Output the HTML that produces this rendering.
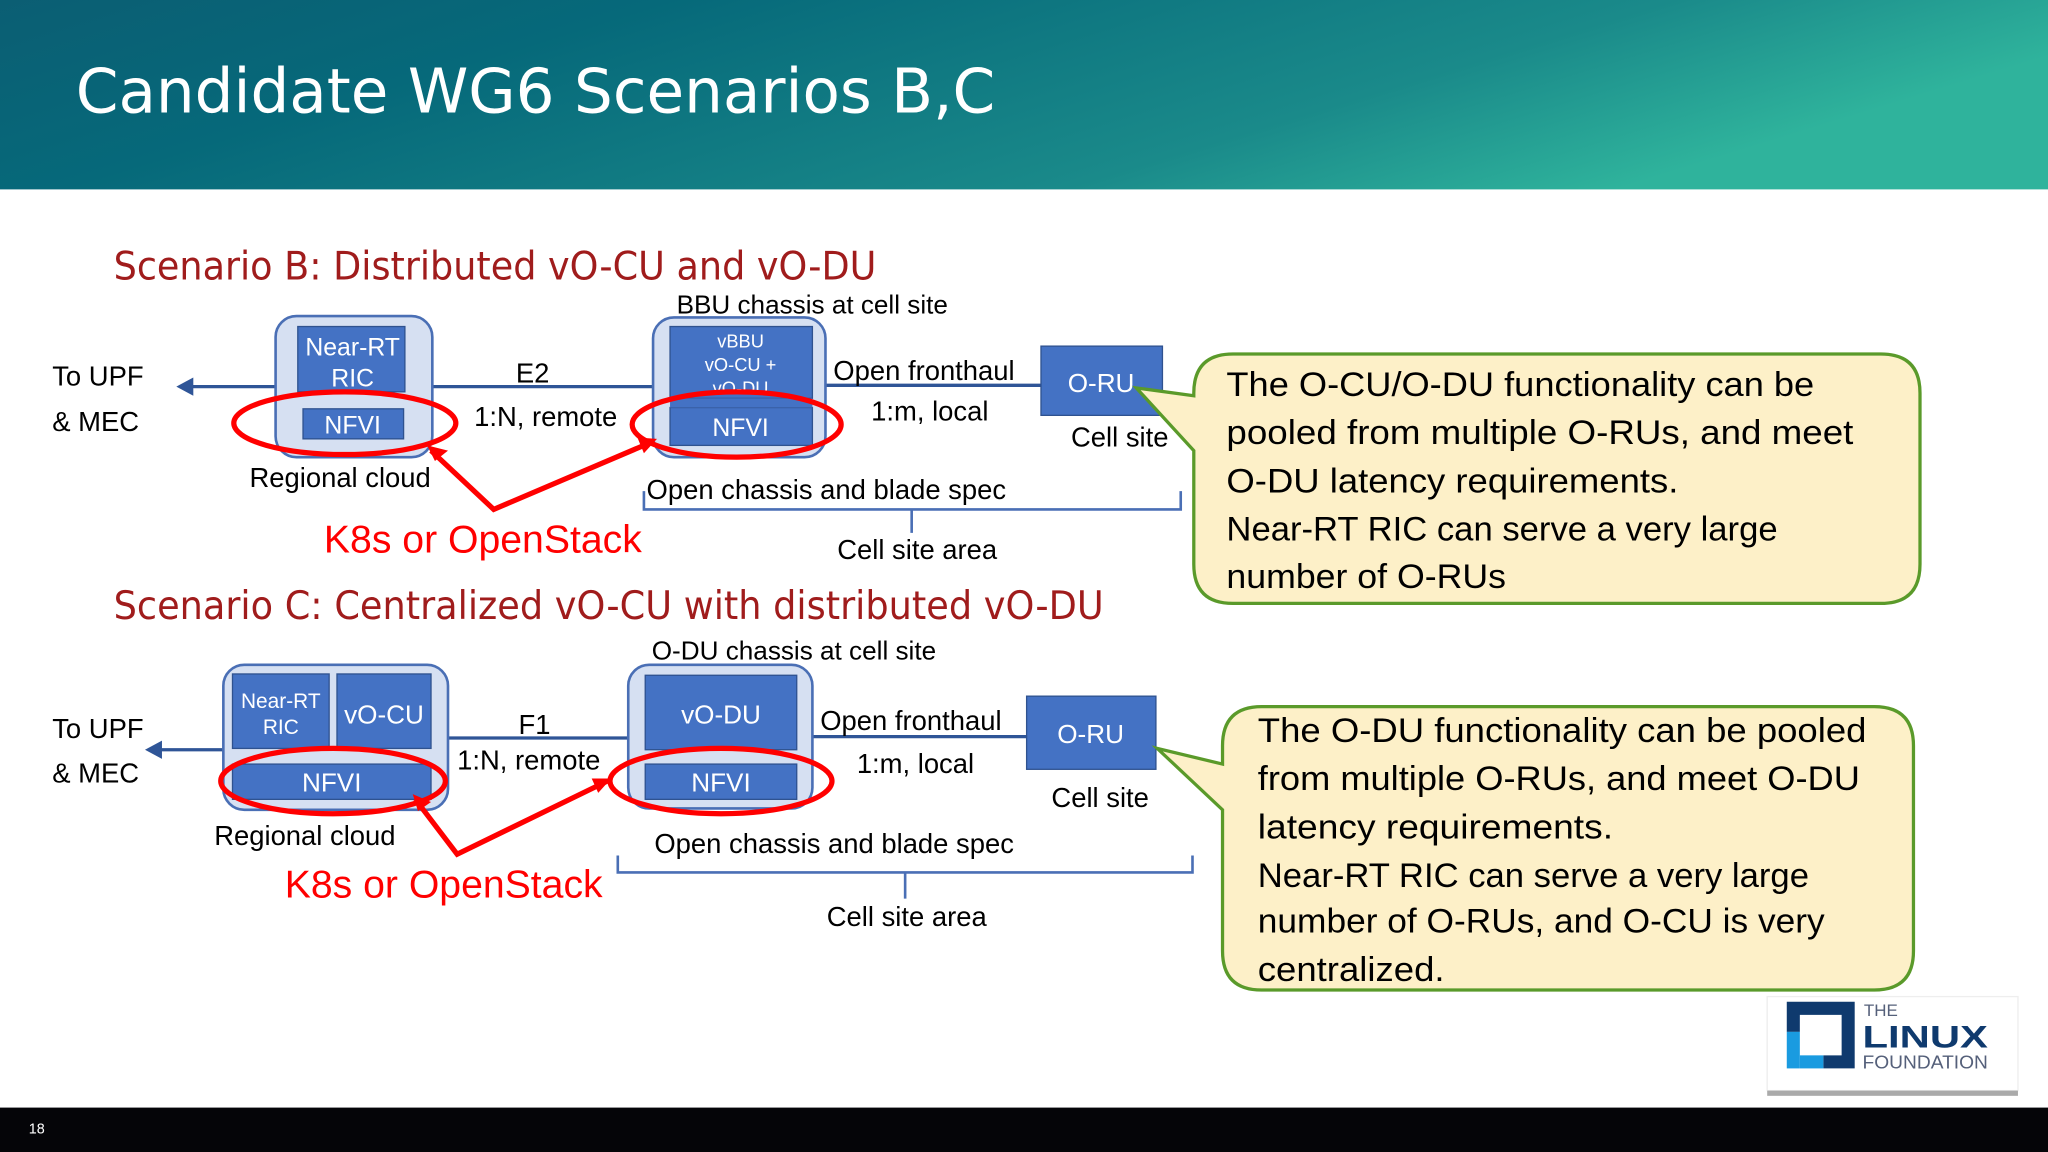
<!DOCTYPE html>
<html><head><meta charset="utf-8"><style>
html,body{margin:0;padding:0;background:#fff;}
svg{display:block;}
text{font-family:"Liberation Sans",sans-serif;}
.cal{font-family:"DejaVu Sans","Liberation Sans",sans-serif;}
</style></head><body>
<svg width="2048" height="1152" viewBox="0 0 1568 882" xmlns="http://www.w3.org/2000/svg">
<defs>
<linearGradient id="hg" x1="0" y1="0" x2="1" y2="0.3">
<stop offset="0" stop-color="#0b5e73"/><stop offset="0.3" stop-color="#06697a"/><stop offset="0.75" stop-color="#1a8a8a"/><stop offset="1" stop-color="#2fb39c"/>
</linearGradient>
</defs>
<rect width="1568" height="882" fill="#fff"/>
<rect width="1568" height="145" fill="url(#hg)"/>
<text x="58" y="86" font-size="47" fill="#fff" class="cal" textLength="704" lengthAdjust="spacingAndGlyphs">Candidate WG6 Scenarios  B,C</text>
<rect y="848" width="1568" height="34" fill="#050508"/>
<text x="22" y="868" font-size="11" fill="#fff">18</text>

<!-- Scenario B -->
<text x="87" y="214" font-size="30" fill="#a01c1c" class="cal" textLength="584" lengthAdjust="spacingAndGlyphs">Scenario B: Distributed vO-CU and vO-DU</text>
<g stroke="#2f5597" stroke-width="2.5"><line x1="211" y1="296" x2="146" y2="296"/><line x1="331" y1="296" x2="500" y2="296"/><line x1="632" y1="295" x2="797" y2="295"/></g>
<polygon points="135,296 148,289 148,303" fill="#2f5597"/>
<rect x="211" y="242" width="120" height="108" rx="16" fill="#d6e0f2" stroke="#4a6fb5" stroke-width="2"/>
<rect x="228" y="250" width="82" height="50" fill="#4472c4" stroke="#2f528f"/>
<rect x="232" y="313" width="77" height="23" fill="#4472c4" stroke="#2f528f"/>
<text x="270" y="272" font-size="19" fill="#fff" text-anchor="middle">Near-RT</text>
<text x="270" y="296" font-size="19" fill="#fff" text-anchor="middle">RIC</text>
<text x="270" y="332" font-size="19" fill="#fff" text-anchor="middle">NFVI</text>
<rect x="500" y="243" width="132" height="107" rx="16" fill="#d6e0f2" stroke="#4a6fb5" stroke-width="2"/>
<rect x="513" y="250" width="109" height="55" fill="#4472c4" stroke="#2f528f"/>
<rect x="513" y="312" width="109" height="29" fill="#4472c4" stroke="#2f528f"/>
<text x="567" y="266" font-size="14" fill="#fff" text-anchor="middle">vBBU</text>
<text x="567" y="284" font-size="14" fill="#fff" text-anchor="middle">vO-CU +</text>
<text x="567" y="302" font-size="14" fill="#fff" text-anchor="middle">vO-DU</text>
<rect x="513" y="305" width="109" height="7" fill="#4472c4"/>
<text x="567" y="334" font-size="19" fill="#fff" text-anchor="middle">NFVI</text>
<rect x="797" y="265" width="93" height="53" fill="#4472c4" stroke="#2f528f"/>
<text x="843" y="300" font-size="20" fill="#fff" text-anchor="middle">O-RU</text>
<ellipse cx="264" cy="324" rx="85" ry="24" fill="none" stroke="#f00" stroke-width="4"/>
<ellipse cx="564" cy="325" rx="80" ry="25" fill="none" stroke="#f00" stroke-width="4"/>
<g font-size="21" fill="#000">
<text x="40" y="295">To UPF</text><text x="40" y="330">&amp; MEC</text>
<text x="395" y="293">E2</text><text x="363" y="326">1:N, remote</text>
<text x="518" y="240" font-size="20">BBU chassis at cell site</text>
<text x="638" y="291">Open fronthaul</text><text x="667" y="322">1:m, local</text>
<text x="820" y="342">Cell site</text>
<text x="191" y="373">Regional cloud</text>
<text x="495" y="382">Open chassis and blade spec</text>
<text x="641" y="428">Cell site area</text>
</g>
<path d="M493 376 V390 H904 V376 M698 390 V408" fill="none" stroke="#4a6fb5" stroke-width="2"/>
<polyline points="330,345 378,390 500,338" fill="none" stroke="#f00" stroke-width="4"/>
<polygon points="327,341 343,345 333,353" fill="#f00"/>
<polygon points="503,336 488,335 493,347" fill="#f00"/>
<text x="248" y="423" font-size="30" fill="#f00">K8s or OpenStack</text>

<path d="M944 271 H1440 Q1470 271 1470 301 V432 Q1470 462 1440 462 H944 Q914 462 914 432 V345 L870 297 L914 303 V301 Q914 271 944 271 Z" fill="#fdf0c8" stroke="#5a9a2a" stroke-width="2.5"/>
<g font-size="26" fill="#000" class="cal">
<text x="939" y="303" textLength="450" lengthAdjust="spacingAndGlyphs">The O-CU/O-DU functionality can be</text>
<text x="939" y="340" textLength="480" lengthAdjust="spacingAndGlyphs">pooled from multiple O-RUs, and meet</text>
<text x="939" y="377" textLength="346" lengthAdjust="spacingAndGlyphs">O-DU latency requirements.</text>
<text x="939" y="414" textLength="422" lengthAdjust="spacingAndGlyphs">Near-RT RIC can serve a very large</text>
<text x="939" y="450" textLength="214" lengthAdjust="spacingAndGlyphs">number of O-RUs</text>
</g>

<!-- Scenario C -->
<text x="87" y="474" font-size="30" fill="#a01c1c" class="cal" textLength="758" lengthAdjust="spacingAndGlyphs">Scenario C: Centralized vO-CU with distributed vO-DU</text>
<g stroke="#2f5597" stroke-width="2.5"><line x1="171" y1="574" x2="122" y2="574"/><line x1="343" y1="565" x2="481" y2="565"/><line x1="622" y1="564" x2="786" y2="564"/></g>
<polygon points="111,574 124,567 124,581" fill="#2f5597"/>
<rect x="171" y="509" width="172" height="111" rx="16" fill="#d6e0f2" stroke="#4a6fb5" stroke-width="2"/>
<rect x="178" y="516" width="74" height="57" fill="#4472c4" stroke="#2f528f"/>
<rect x="258" y="516" width="72" height="57" fill="#4472c4" stroke="#2f528f"/>
<rect x="178" y="585" width="152" height="27" fill="#4472c4" stroke="#2f528f"/>
<text x="215" y="542" font-size="16" fill="#fff" text-anchor="middle">Near-RT</text>
<text x="215" y="562" font-size="16" fill="#fff" text-anchor="middle">RIC</text>
<text x="294" y="554" font-size="20" fill="#fff" text-anchor="middle">vO-CU</text>
<text x="254" y="606" font-size="20" fill="#fff" text-anchor="middle">NFVI</text>
<rect x="481" y="509" width="141" height="110" rx="16" fill="#d6e0f2" stroke="#4a6fb5" stroke-width="2"/>
<rect x="494" y="517" width="116" height="57" fill="#4472c4" stroke="#2f528f"/>
<rect x="494" y="585" width="116" height="27" fill="#4472c4" stroke="#2f528f"/>
<text x="552" y="554" font-size="20" fill="#fff" text-anchor="middle">vO-DU</text>
<text x="552" y="606" font-size="20" fill="#fff" text-anchor="middle">NFVI</text>
<rect x="786" y="533" width="99" height="56" fill="#4472c4" stroke="#2f528f"/>
<text x="835" y="569" font-size="20" fill="#fff" text-anchor="middle">O-RU</text>
<ellipse cx="255" cy="598" rx="86" ry="25" fill="none" stroke="#f00" stroke-width="4"/>
<ellipse cx="552" cy="598" rx="85" ry="25" fill="none" stroke="#f00" stroke-width="4"/>
<g font-size="21" fill="#000">
<text x="40" y="565">To UPF</text><text x="40" y="599">&amp; MEC</text>
<text x="397" y="562">F1</text><text x="350" y="589">1:N, remote</text>
<text x="499" y="505" font-size="20">O-DU chassis at cell site</text>
<text x="628" y="559">Open fronthaul</text><text x="656" y="592">1:m, local</text>
<text x="805" y="618">Cell site</text>
<text x="164" y="647">Regional cloud</text>
<text x="501" y="653">Open chassis and blade spec</text>
<text x="633" y="709">Cell site area</text>
</g>
<path d="M473 655 V668 H913 V655 M693 668 V688" fill="none" stroke="#4a6fb5" stroke-width="2"/>
<polyline points="318,612 350,654 465,598" fill="none" stroke="#f00" stroke-width="4"/>
<polygon points="316,608 330,614 320,621" fill="#f00"/>
<polygon points="468,596 453,596 458,607" fill="#f00"/>
<text x="218" y="687" font-size="30" fill="#f00">K8s or OpenStack</text>

<path d="M966 541 H1435 Q1465 541 1465 571 V728 Q1465 758 1435 758 H966 Q936 758 936 728 V620 L886 573 L936 585 V571 Q936 541 966 541 Z" fill="#fdf0c8" stroke="#5a9a2a" stroke-width="2.5"/>
<g font-size="26" fill="#000" class="cal">
<text x="963" y="568" textLength="466" lengthAdjust="spacingAndGlyphs">The O-DU functionality can be pooled</text>
<text x="963" y="605" textLength="461" lengthAdjust="spacingAndGlyphs">from multiple O-RUs, and meet O-DU</text>
<text x="963" y="642" textLength="272" lengthAdjust="spacingAndGlyphs">latency requirements.</text>
<text x="963" y="679" textLength="422" lengthAdjust="spacingAndGlyphs">Near-RT RIC can serve a very large</text>
<text x="963" y="714" textLength="434" lengthAdjust="spacingAndGlyphs">number of O-RUs, and O-CU is very</text>
<text x="963" y="751" textLength="143" lengthAdjust="spacingAndGlyphs">centralized.</text>
</g>

<!-- logo -->
<rect x="1353" y="763" width="192" height="72" fill="#fff" stroke="#eee"/>
<rect x="1353" y="835" width="192" height="4" fill="#aaa"/>
<path d="M1368 767 H1420 V818 H1396 V808 H1410 V777 H1378 V790 H1368 Z" fill="#0f3a6e"/>
<rect x="1368" y="790" width="10" height="28" fill="#1a9be0"/>
<rect x="1378" y="808" width="18" height="10" fill="#1a9be0"/>
<text x="1427" y="778" font-size="13" fill="#55607a">THE</text>
<text x="1426" y="802" font-size="24" font-weight="bold" fill="#0f3a6e" textLength="96" lengthAdjust="spacingAndGlyphs">LINUX</text>
<text x="1426" y="818" font-size="14" fill="#55607a" textLength="96" lengthAdjust="spacingAndGlyphs">FOUNDATION</text>
</svg>
</body></html>
